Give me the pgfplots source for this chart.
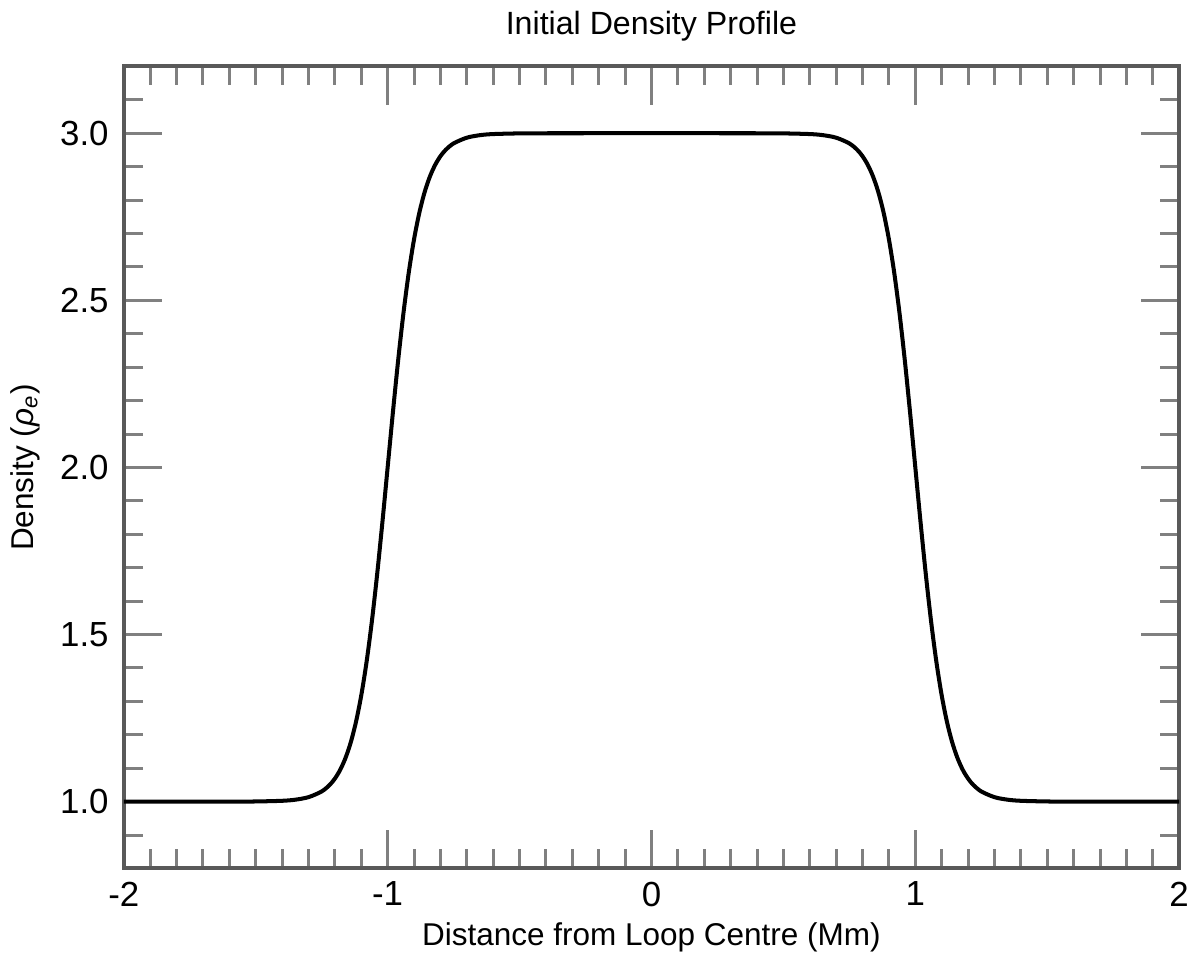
\documentclass[border=0pt]{standalone}
\usepackage{fontspec}
\setmainfont{Liberation Sans}
\usepackage{pgfplots}
\usepackage{pgfplotstable}
\pgfplotsset{compat=1.18}

% density profile
\pgfplotstableread{
x      rho
-2.00  1.0000
-1.60  1.0001
-1.50  1.0005
-1.40  1.0025
-1.35  1.0058
-1.30  1.0134
-1.25  1.0305
-1.22  1.0498
-1.20  1.0689
-1.18  1.0949
-1.16  1.1300
-1.14  1.1768
-1.12  1.2384
-1.10  1.3178
-1.08  1.4172
-1.06  1.5379
-1.04  1.6785
-1.02  1.8348
-1.00  2.0000
-0.98  2.1652
-0.96  2.3215
-0.94  2.4621
-0.92  2.5828
-0.90  2.6822
-0.88  2.7616
-0.86  2.8232
-0.84  2.8700
-0.82  2.9051
-0.80  2.9311
-0.78  2.9502
-0.75  2.9695
-0.70  2.9866
-0.65  2.9942
-0.60  2.9975
-0.50  2.9995
-0.40  2.9999
 0.00  3.0000
 0.40  2.9999
 0.50  2.9995
 0.60  2.9975
 0.65  2.9942
 0.70  2.9866
 0.75  2.9695
 0.78  2.9502
 0.80  2.9311
 0.82  2.9051
 0.84  2.8700
 0.86  2.8232
 0.88  2.7616
 0.90  2.6822
 0.92  2.5828
 0.94  2.4621
 0.96  2.3215
 0.98  2.1652
 1.00  2.0000
 1.02  1.8348
 1.04  1.6785
 1.06  1.5379
 1.08  1.4172
 1.10  1.3178
 1.12  1.2384
 1.14  1.1768
 1.16  1.1300
 1.18  1.0949
 1.20  1.0689
 1.22  1.0498
 1.25  1.0305
 1.30  1.0134
 1.35  1.0058
 1.40  1.0025
 1.50  1.0005
 1.60  1.0001
 2.00  1.0000
}\densitytab

\begin{document}
\begin{tikzpicture}
\begin{axis}[
    scale only axis,
    width=315pt, height=239.4pt,
    xmin=-2, xmax=2, ymin=0.8, ymax=3.2,
    xtick={-2,-1,0,1,2},
    ytick={1,1.5,2,2.5,3},
    minor xtick={-1.9,-1.8,-1.7,-1.6,-1.5,-1.4,-1.3,-1.2,-1.1,
                 -0.9,-0.8,-0.7,-0.6,-0.5,-0.4,-0.3,-0.2,-0.1,
                 0.1,0.2,0.3,0.4,0.5,0.6,0.7,0.8,0.9,
                 1.1,1.2,1.3,1.4,1.5,1.6,1.7,1.8,1.9},
    minor ytick={0.9,1.1,1.2,1.3,1.4,1.6,1.7,1.8,1.9,
                 2.1,2.2,2.3,2.4,2.6,2.7,2.8,2.9,3.1},
    major tick length=11.4pt,
    minor tick length=5.7pt,
    every tick/.style={black!50, line width=0.9pt},
    axis line style={black!65, line width=1.2pt},
    /pgf/number format/assume math mode=true,
    tick label style={font=\fontsize{10.4}{12}\selectfont, black},
    yticklabel style={/pgf/number format/fixed,
        /pgf/number format/fixed zerofill,
        /pgf/number format/precision=1, xshift=-1pt},
    xticklabel style={/pgf/number format/fixed, yshift=-0.5pt},
    label style={font=\fontsize{9.4}{11}\selectfont},
    xlabel={Distance from Loop Centre (Mm)},
    ylabel={Density (\textit{ρ}\textsubscript{\textit{e}})},
    xlabel style={yshift=2pt},
    ylabel style={yshift=-1pt},
    title={Initial Density Profile},
    title style={font=\fontsize{9.6}{12}\selectfont, yshift=-2pt},
]
\addplot[black, line width=1.2pt, smooth] table[x=x, y=rho] {\densitytab};
\end{axis}
\end{tikzpicture}
\end{document}
